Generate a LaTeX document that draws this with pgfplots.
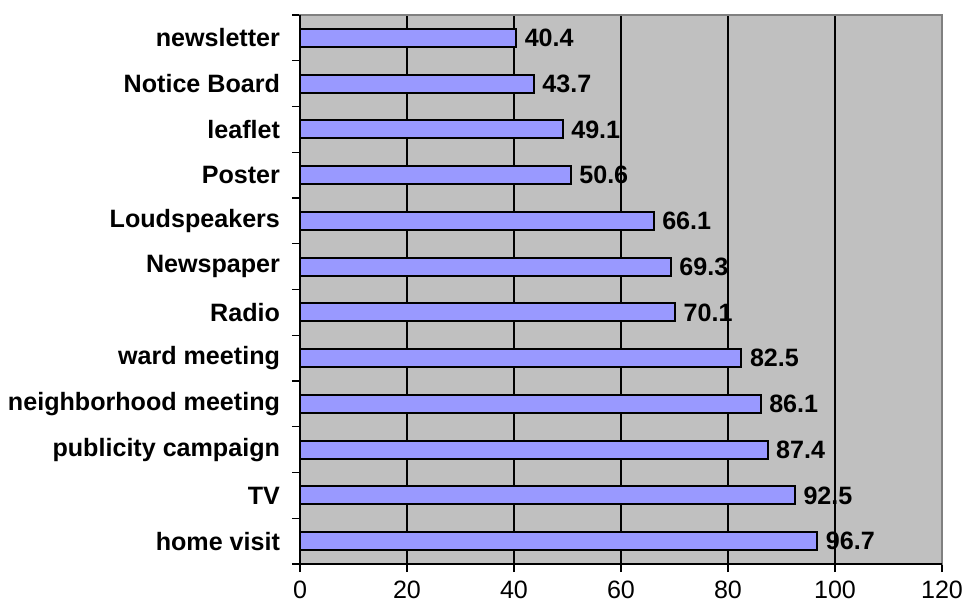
\documentclass[border=0pt]{standalone}
\usepackage{fontspec}
\setmainfont{Liberation Sans}
\usepackage{pgfplots}
\pgfplotsset{compat=1.18}
\definecolor{plotbg}{HTML}{C0C0C0}
\definecolor{barfill}{HTML}{9999FF}
\definecolor{framegray}{HTML}{808080}
\begin{document}
\begin{tikzpicture}
\useasboundingbox (-150bp,-20bp) rectangle (331.5bp,282bp);
\begin{axis}[
  at={(0,0)}, anchor=south west,
  scale only axis, width=321bp, height=274.5bp,
  xbar, xmin=0, xmax=120, ymin=-0.5, ymax=11.5,
  bar width=9bp,
  axis background/.style={fill=plotbg},
  axis line style={draw=framegray, line width=1bp},
  xtick={0,20,...,120},
  ytick={-0.5,0.5,...,11.5},
  y tick label as interval,
  yticklabels={home visit,TV,publicity campaign,neighborhood meeting,ward meeting,Radio,Newspaper,Loudspeakers,Poster,leaflet,Notice Board,newsletter},
  xtick pos=bottom, ytick pos=left,
  tick align=outside,
  major tick length=4bp,
  tick style={black, line width=0.6bp},
  xmajorgrids,
  grid style={black, line width=1bp},
  /pgf/number format/assume math mode=true,
  xticklabel style={font=\fontsize{12.6}{14}\selectfont, yshift=-1.2bp},
  yticklabel style={font=\fontsize{12.6}{14}\selectfont\bfseries, xshift=-2.5bp},
  nodes near coords={\pgfmathprintnumber[fixed,precision=1,fixed zerofill]{\pgfplotspointmeta}},
  point meta=x,
  every node near coord/.append style={font=\fontsize{12.6}{14}\selectfont\bfseries, anchor=west, black, xshift=0.5bp},
  clip=false,
]
\addplot[fill=barfill, draw=black, line width=1bp] coordinates {
  (96.7,0) (92.5,1) (87.4,2) (86.1,3) (82.5,4) (70.1,5)
  (69.3,6) (66.1,7) (50.6,8) (49.1,9) (43.7,10) (40.4,11)
};
\draw[black, line width=0.6bp] (rel axis cs:0,1) -- (rel axis cs:0,0) -- (rel axis cs:1,0);
\end{axis}
\end{tikzpicture}
\end{document}
